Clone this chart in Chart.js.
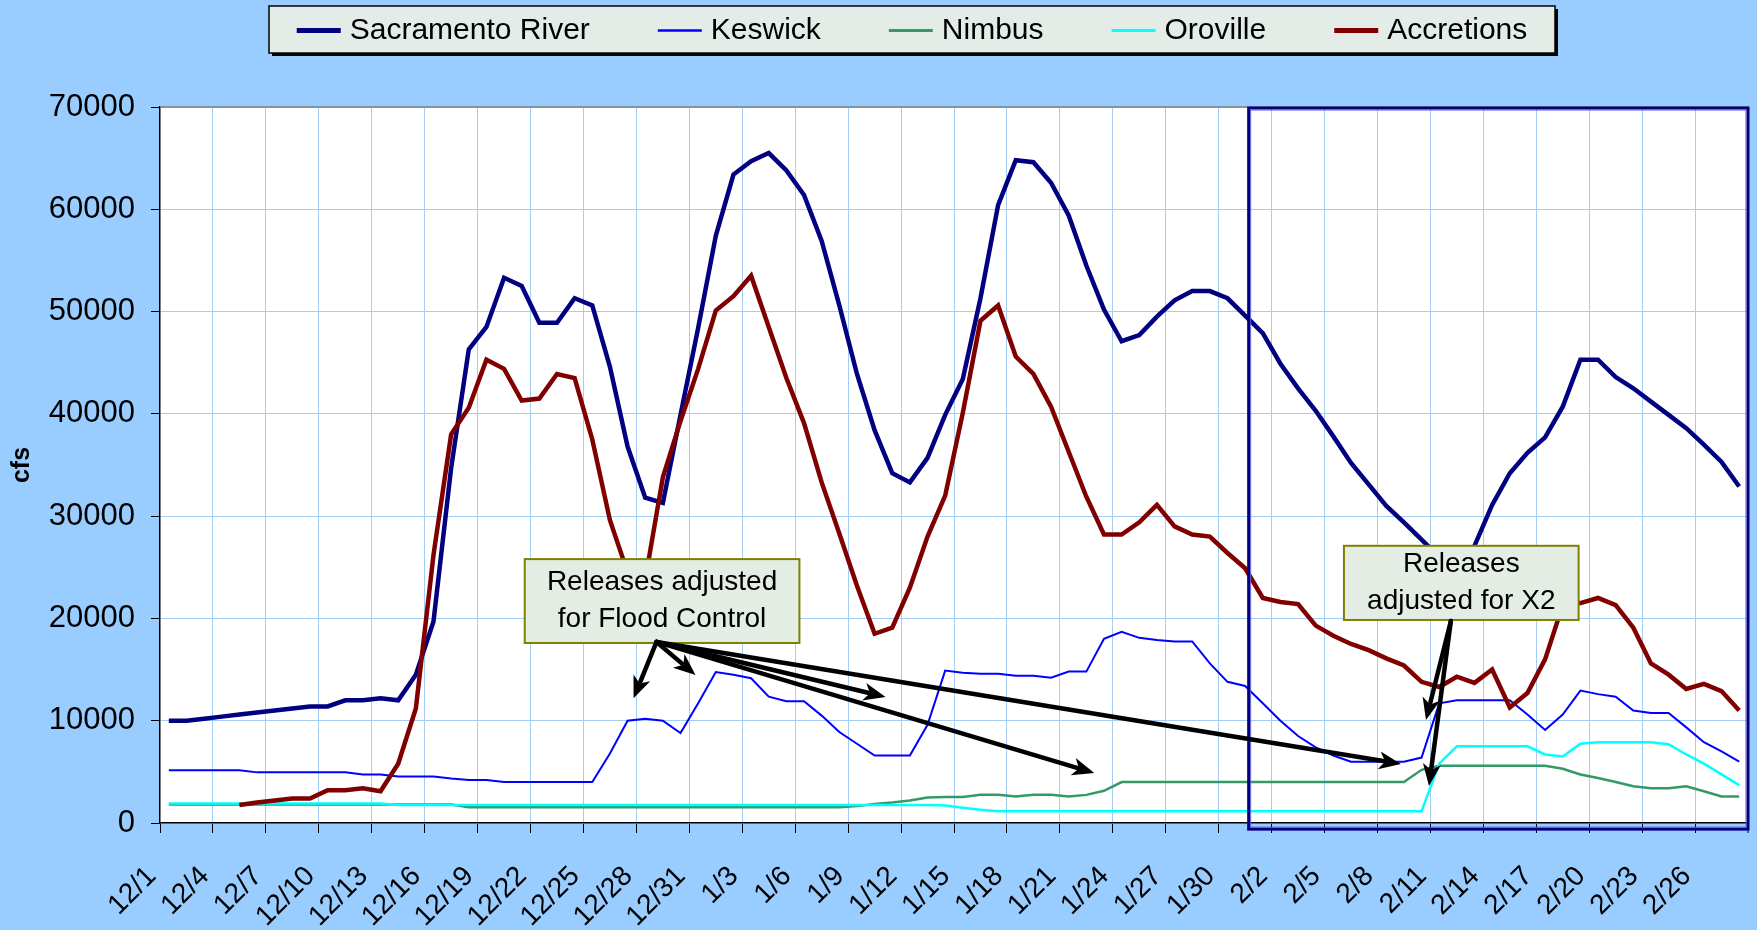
<!DOCTYPE html>
<html>
<head>
<meta charset="utf-8">
<script src="https://cdn.jsdelivr.net/npm/chart.js@4.4.0/dist/chart.umd.min.js"></script>
<style>
html, body { margin: 0; padding: 0; background: #99ccff; }
#wrap { width: 1757px; height: 930px; }
</style>
</head>
<body>
<div id="wrap"><canvas id="graphCanvas" width="1757" height="930"></canvas></div>
<script>
const days = [
  '12/1','12/2','12/3','12/4','12/5','12/6','12/7','12/8','12/9','12/10',
  '12/11','12/12','12/13','12/14','12/15','12/16','12/17','12/18','12/19','12/20',
  '12/21','12/22','12/23','12/24','12/25','12/26','12/27','12/28','12/29','12/30',
  '12/31','1/1','1/2','1/3','1/4','1/5','1/6','1/7','1/8','1/9',
  '1/10','1/11','1/12','1/13','1/14','1/15','1/16','1/17','1/18','1/19',
  '1/20','1/21','1/22','1/23','1/24','1/25','1/26','1/27','1/28','1/29',
  '1/30','1/31','2/1','2/2','2/3','2/4','2/5','2/6','2/7','2/8',
  '2/9','2/10','2/11','2/12','2/13','2/14','2/15','2/16','2/17','2/18',
  '2/19','2/20','2/21','2/22','2/23','2/24','2/25','2/26','2/27','2/28'
];

const sacramento = [
  10000,10000,10200,10400,10600,10800,11000,11200,11400,11400,
  12000,12000,12200,12000,14500,19700,34700,46300,48500,53300,
  52500,48900,48900,51300,50600,44600,36800,31800,31300,39900,
  48400,57400,63400,64700,65500,63800,61400,56900,50600,43900,
  38400,34200,33300,35700,39900,43400,51300,60400,64800,64600,
  62600,59400,54500,50200,47100,47700,49500,51100,52000,52000,
  51300,49600,47900,44900,42500,40300,37800,35200,33100,31000,
  29400,27700,26000,25300,27100,31100,34200,36200,37700,40700,
  45300,45300,43600,42500,41200,39900,38600,37000,35300,32900
];

const keswick = [
  5150,5150,5150,5150,5150,4950,4950,4950,4950,4950,
  4950,4750,4750,4550,4550,4550,4350,4200,4200,4000,
  4000,4000,4000,4000,4000,6800,10000,10200,10000,8800,
  11700,14750,14500,14150,12350,11900,11900,10500,8900,7750,
  6600,6600,6600,9600,14900,14700,14600,14600,14400,14400,
  14200,14800,14800,18000,18700,18100,17900,17750,17750,15600,
  13800,13400,11700,10000,8500,7400,6600,6000,6000,6000,
  6000,6400,11700,12000,12000,12000,12000,10600,9100,10600,
  12950,12600,12350,11000,10750,10750,9350,7900,7000,6000
];

const nimbus = [
  1800,1800,1800,1800,1800,1800,1800,1800,1800,1800,
  1800,1800,1800,1800,1800,1800,1800,1550,1550,1550,
  1550,1550,1550,1550,1550,1550,1550,1550,1550,1550,
  1550,1550,1550,1550,1550,1550,1550,1550,1550,1650,
  1850,2000,2200,2500,2550,2550,2750,2750,2600,2750,
  2750,2600,2750,3150,4000,4000,4000,4000,4000,4000,
  4000,4000,4000,4000,4000,4000,4000,4000,4000,4000,
  4000,5200,5600,5600,5600,5600,5600,5600,5600,5300,
  4750,4400,4000,3600,3400,3400,3600,3100,2600,2600
];

const oroville = [
  1900,1900,1900,1900,1900,1900,1900,1900,1900,1900,
  1900,1900,1900,1750,1750,1750,1750,1750,1750,1750,
  1750,1750,1750,1750,1750,1750,1750,1750,1750,1750,
  1750,1750,1750,1750,1750,1750,1750,1750,1750,1750,
  1750,1750,1750,1750,1700,1500,1300,1150,1150,1150,
  1150,1150,1150,1150,1150,1150,1150,1150,1150,1150,
  1150,1150,1150,1150,1150,1150,1150,1150,1150,1150,
  1150,1150,5800,7500,7500,7500,7500,7500,6700,6500,
  7750,7900,7900,7900,7900,7700,6700,5800,4750,3700
];

const accretions = [
  null,null,null,null,1750,2000,2200,2400,2400,3200,
  3200,3400,3100,5800,11200,26200,38000,40600,45300,44400,
  41300,41500,43900,43500,37500,29600,24500,23800,33800,39300,
  44400,50100,51500,53500,48500,43500,39100,33300,28300,23200,
  18500,19100,23000,28000,32000,40100,49100,50600,45600,43900,
  40700,36300,31900,28200,28200,29400,31100,29000,28200,28000,
  26400,24900,22000,21600,21400,19300,18300,17500,16900,16100,
  15400,13800,13300,14300,13700,15000,11300,12700,16000,21300,
  21500,22000,21300,19100,15600,14500,13100,13600,12900,11000
];

const yTicks = [0, 10000, 20000, 30000, 40000, 50000, 60000, 70000];

// callouts, placed in data units (category index, cfs)
const callouts = [
  { lines: ['Releases adjusted', 'for Flood Control'],
    box: [20.17, 25800, 35.74, 17600], from: [27.64, 17700],
    to: [[26.34, 12200], [29.85, 14470], [40.62, 12320], [52.45, 4890], [69.83, 5770]] },
  { lines: ['Releases', 'adjusted for X2'],
    box: [66.6, 27100, 79.9, 19850], from: [72.66, 19750],
    to: [[71.25, 10070], [71.42, 3620]] }
];
const x2Window = [61.2, 69900, 89.5, -600];

const FONT = 'Arial, "Liberation Sans", sans-serif';
const gridColor = '#a4cdf5';

const bgPlugin = {
  id: 'bg',
  beforeDraw(chart) {
    const { ctx, chartArea: a } = chart;
    ctx.save();
    ctx.fillStyle = '#99ccff';
    ctx.fillRect(0, 0, chart.width, chart.height);
    ctx.fillStyle = '#ffffff';
    ctx.fillRect(a.left, a.top, a.right - a.left, a.bottom - a.top);
    ctx.restore();
  },
  beforeDatasetsDraw(chart) {
    const { ctx, chartArea: a } = chart;
    ctx.save();
    ctx.strokeStyle = '#808080';
    ctx.lineWidth = 1.5;
    ctx.beginPath();
    ctx.moveTo(a.left, a.top);
    ctx.lineTo(a.right, a.top);
    ctx.lineTo(a.right, a.bottom);
    ctx.stroke();
    ctx.strokeStyle = '#000';
    ctx.lineWidth = 1;
    ctx.beginPath();
    ctx.moveTo(a.right, a.bottom);
    ctx.lineTo(a.right, a.bottom + 10);
    ctx.stroke();
    ctx.restore();
  }
};

function drawArrow(ctx, x0, y0, x1, y1) {
  const ang = Math.atan2(y1 - y0, x1 - x0);
  const hl = 22, hw = 9;
  const bx = x1 - hl * Math.cos(ang), by = y1 - hl * Math.sin(ang);
  ctx.beginPath();
  ctx.moveTo(x0, y0);
  ctx.lineTo(bx + 4 * Math.cos(ang), by + 4 * Math.sin(ang));
  ctx.stroke();
  ctx.beginPath();
  ctx.moveTo(x1, y1);
  ctx.lineTo(bx + hw * Math.sin(ang), by - hw * Math.cos(ang));
  ctx.lineTo(bx + 6 * Math.cos(ang), by + 6 * Math.sin(ang));
  ctx.lineTo(bx - hw * Math.sin(ang), by + hw * Math.cos(ang));
  ctx.closePath();
  ctx.fill();
}

const notePlugin = {
  id: 'notes',
  afterDatasetsDraw(chart) {
    const ctx = chart.ctx;
    const xs = chart.scales.x, ys = chart.scales.y;
    const px = v => xs.getPixelForValue(v);
    const py = v => ys.getPixelForValue(v);
    ctx.save();
    // X2 window
    ctx.strokeStyle = '#000080';
    ctx.lineWidth = 3;
    ctx.strokeRect(px(x2Window[0]), py(x2Window[1]), px(x2Window[2]) - px(x2Window[0]), py(x2Window[3]) - py(x2Window[1]));
    ctx.strokeStyle = '#5a5ad8';
    ctx.lineWidth = 1;
    ctx.strokeRect(px(x2Window[0]) + 2, py(x2Window[1]) + 2, px(x2Window[2]) - px(x2Window[0]) - 4, py(x2Window[3]) - py(x2Window[1]) - 4);

    callouts.forEach(c => {
      const l = px(c.box[0]), t = py(c.box[1]), r = px(c.box[2]), b = py(c.box[3]);
      ctx.fillStyle = '#e3ede4';
      ctx.fillRect(l, t, r - l, b - t);
      ctx.strokeStyle = '#808000';
      ctx.lineWidth = 2;
      ctx.strokeRect(l, t, r - l, b - t);
      ctx.fillStyle = '#000';
      ctx.font = '28px ' + FONT;
      ctx.textAlign = 'center';
      ctx.textBaseline = 'middle';
      const mid = (t + b) / 2;
      ctx.fillText(c.lines[0], (l + r) / 2, mid - 19);
      ctx.fillText(c.lines[1], (l + r) / 2, mid + 18);
    });
    ctx.strokeStyle = '#000';
    ctx.fillStyle = '#000';
    ctx.lineWidth = 4.5;
    ctx.lineCap = 'round';
    callouts.forEach(c => {
      const x0 = px(c.from[0]), y0 = py(c.from[1]);
      c.to.forEach(p => drawArrow(ctx, x0, y0, px(p[0]), py(p[1])));
    });
    ctx.restore();
  },
  afterDraw(chart) {
    // legend box
    const ctx = chart.ctx;
    const bx = 269, by = 6, bw = 1286, bh = 47;
    ctx.save();
    ctx.fillStyle = '#000';
    ctx.fillRect(bx + 3, by + 3, bw, bh);
    ctx.fillStyle = '#e3ece6';
    ctx.fillRect(bx, by, bw, bh);
    ctx.strokeStyle = '#000';
    ctx.lineWidth = 1.5;
    ctx.strokeRect(bx, by, bw, bh);
    ctx.font = '30px ' + FONT;
    ctx.textBaseline = 'middle';
    ctx.textAlign = 'left';
    const sets = chart.data.datasets;
    const sample = 44, gap1 = 9, gap2 = 68;
    let total = 0;
    sets.forEach((d, i) => { total += sample + gap1 + ctx.measureText(d.label).width + (i ? gap2 : 0); });
    let x = bx + (bw - total) / 2;
    const y = by + bh / 2 + 1;
    sets.forEach(d => {
      ctx.strokeStyle = d.borderColor;
      ctx.lineWidth = d.borderWidth + 0.5;
      ctx.beginPath();
      ctx.moveTo(x, y);
      ctx.lineTo(x + sample, y);
      ctx.stroke();
      x += sample + gap1;
      ctx.fillStyle = '#000';
      ctx.fillText(d.label, x, y);
      x += ctx.measureText(d.label).width + gap2;
    });
    ctx.restore();
  }
};

const chart_data = {
  labels: days,
  datasets: [
    { label: 'Sacramento River', data: sacramento, borderColor: '#000080', borderWidth: 4.5, order: 5 },
    { label: 'Keswick', data: keswick, borderColor: '#0000ff', borderWidth: 2, order: 4 },
    { label: 'Nimbus', data: nimbus, borderColor: '#339966', borderWidth: 2.5, order: 3 },
    { label: 'Oroville', data: oroville, borderColor: '#00ffff', borderWidth: 2.5, order: 2 },
    { label: 'Accretions', data: accretions, borderColor: '#800000', borderWidth: 4.5, order: 1 }
  ]
};

const config = {
  type: 'line',
  data: chart_data,
  plugins: [bgPlugin, notePlugin],
  options: {
    responsive: false,
    animation: false,
    devicePixelRatio: 1,
    layout: { padding: { top: 107, right: 9, left: 0, bottom: 0 } },
    elements: { point: { radius: 0 }, line: { tension: 0, fill: false } },
    plugins: { legend: { display: false }, tooltip: { enabled: false } },
    scales: {
      x: {
        offset: true,
        grid: {
          offset: true,
          color: c => (c.index > 0 && c.index % 3 === 0) ? gridColor : 'rgba(0,0,0,0)',
          tickColor: c => (c.index % 3 === 0) ? '#000' : 'rgba(0,0,0,0)',
          tickLength: 10
        },
        border: { color: '#000', width: 1.5 },
        ticks: {
          autoSkip: false,
          minRotation: 45,
          maxRotation: 45,
          color: '#000',
          padding: 27,
          labelOffset: -17,
          font: { size: 28, family: FONT },
          callback: function (v, i) { return i % 3 === 0 ? this.getLabelForValue(v) : ''; }
        },
        afterFit: s => { s.height = 107; s.paddingLeft = 0; s.paddingRight = 0; }
      },
      y: {
        min: 0,
        max: 70000,
        afterBuildTicks: s => { s.ticks = yTicks.map(v => ({ value: v })); },
        grid: { color: gridColor, tickColor: '#000', tickLength: 9 },
        border: { color: '#000', width: 1.5 },
        ticks: {
          color: '#000',
          padding: 16,
          font: { size: 31, family: FONT },
          callback: v => String(v)
        },
        title: {
          display: true,
          text: 'cfs',
          color: '#000',
          font: { size: 25, weight: 'bold', family: FONT },
          padding: { top: 7, bottom: 0 }
        },
        afterFit: s => { s.width = 160; s.paddingTop = 0; s.paddingBottom = 0; }
      }
    }
  }
};

const chart = new Chart(document.getElementById('graphCanvas').getContext('2d'), config);
</script>
</body>
</html>
